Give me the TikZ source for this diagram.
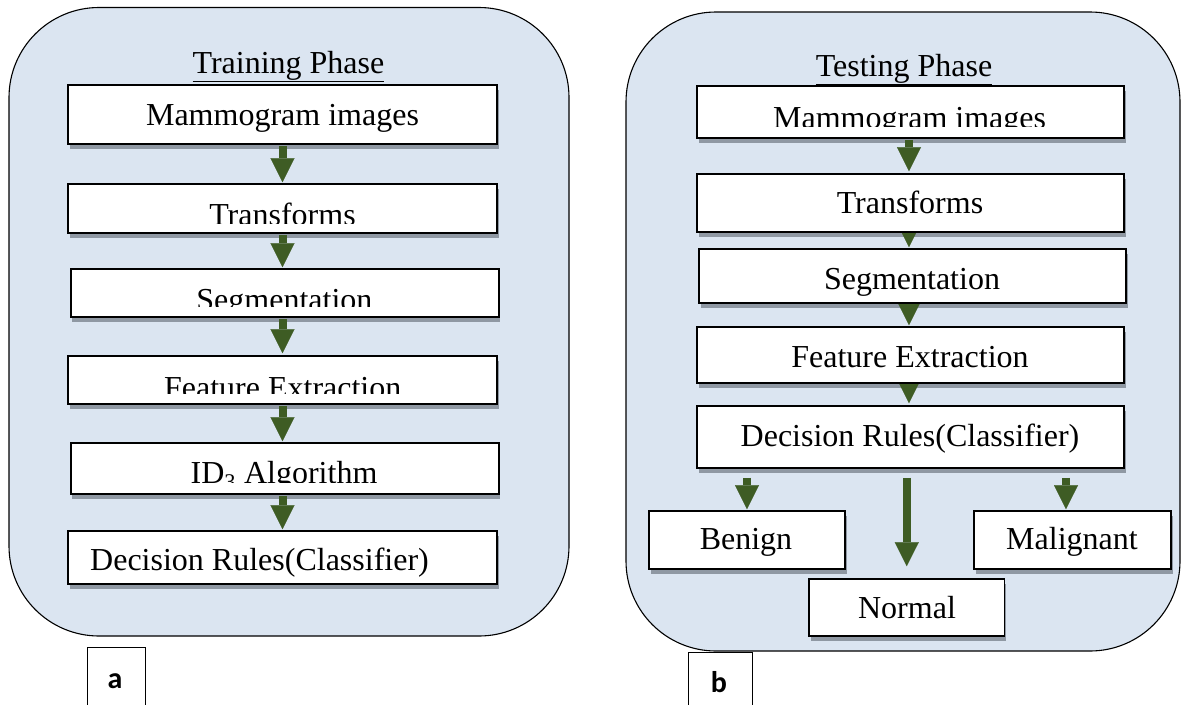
\documentclass[tikz,border=0pt]{standalone}
\usepackage{fontspec}
\setmainfont{Liberation Serif}
\newfontfamily\labfont{Carlito}
\usetikzlibrary{arrows.meta,shadows,calc}
\definecolor{panelblue}{RGB}{219,229,241}
\definecolor{arrgreen}{RGB}{62,92,36}
\definecolor{shadowgray}{RGB}{143,152,163}
\begin{document}
\begin{tikzpicture}[x=1pt,y=-1pt,
  panel/.style={draw=black, line width=1.1pt, fill=panelblue, rounded corners=90pt},
  box/.style={draw=black, line width=1.6pt, fill=white, inner sep=0pt,
    drop shadow={shadow xshift=1.5pt, shadow yshift=-5pt, fill=shadowgray, opacity=1}},
  txt/.style={font=\fontsize{32}{38}\selectfont, inner sep=0pt, anchor=base},
  arr/.style={draw=arrgreen, line width=8pt,
    -{Triangle[width=24pt, length=24pt, line width=0.1pt]}},
  labbox/.style={draw=black, line width=1pt},
  labtxt/.style={font=\labfont\bfseries\fontsize{30}{36}\selectfont, inner sep=0pt, anchor=base}
]
\useasboundingbox (0,0) rectangle (1183,704);
\fill[white] (0,0) rectangle (1183,704);

% ---------- panels ----------
\draw[panel] (9,7.5) rectangle (569,636);
\draw[panel] (626,12) rectangle (1180,651);

% ---------- left panel (training) ----------
\node[txt] (ltitle) at (288.5,73) {\underline{Training Phase}};
\node[box, minimum width=429pt, minimum height=59pt] (lm) at (282.5,114.5) {};
\node[box, minimum width=429pt, minimum height=49pt] (lt) at (282.5,208.5) {};
\node[box, minimum width=428pt, minimum height=48pt] (ls) at (284.8,293) {};
\node[box, minimum width=429pt, minimum height=48pt] (lf) at (282.5,380) {};
\node[box, minimum width=428pt, minimum height=51pt] (li) at (284.8,468.5) {};
\node[box, minimum width=429pt, minimum height=53pt] (ld) at (282.5,557.5) {};

\draw[arr] ($(lm.south)+(0,1)$) -- ($(lm.south |- lt.north)+(0,-1)$);
\draw[arr] ($(lt.south)+(0,1)$) -- ($(lt.south |- ls.north)+(0,-1)$);
\draw[arr] ($(ls.south)+(-2.3,1)$) -- ($(ls.south |- lf.north)+(-2.3,-2)$);
\draw[arr] ($(lf.south)+(0,1)$) -- ($(lf.south |- li.north)+(0,-1)$);
\draw[arr] ($(li.south)+(-2.3,1)$) -- ($(li.south |- ld.north)+(-2.3,-1)$);

\node[txt] (lmt) at (282.5,125) {Mammogram images};
\begin{scope}
  \clip (68,184) rectangle (497,223);
  \node[txt] (ltt) at (282.5,225) {Transforms};
\end{scope}
\begin{scope}
  \clip (70,269) rectangle (499,306);
  \node[txt] (lst) at (284.4,310) {Segmentation};
\end{scope}
\begin{scope}
  \clip (68,356) rectangle (497,393);
  \node[txt] (lft) at (282.7,398) {Feature Extraction};
\end{scope}
\begin{scope}
  \clip (70,443) rectangle (499,482.5);
  \node[txt] (lit) at (284,483) {ID\textsubscript{3} Algorithm};
\end{scope}
\node[txt, anchor=base west] (ldt) at (90,570) {Decision Rules(Classifier)};

% ---------- right panel (testing) ----------
\node[txt] (rtitle) at (904,76) {\underline{Testing Phase}};

\node[box, minimum width=427pt, minimum height=52pt] (rm) at (910.5,112) {};
\node[box, minimum width=427pt, minimum height=58pt] (rt) at (910.5,203) {};
\node[box, minimum width=427pt, minimum height=54pt] (rs) at (912.5,276) {};
\node[box, minimum width=427pt, minimum height=56pt] (rf) at (910.5,355) {};
\node[box, minimum width=427pt, minimum height=62pt] (rd) at (910.5,437) {};
\node[box, minimum width=196pt, minimum height=58pt] (rb) at (747,540) {};
\node[box, minimum width=197pt, minimum height=58pt] (rmal) at (1072.5,540) {};
\node[box, minimum width=195.5pt, minimum height=57pt] (rn) at (906.75,607.5) {};

\draw[arr] ($(rm.south)+(-1.5,1)$) -- ($(rm.south |- rt.north)+(-1.5,-2)$);
% arrows whose upper part is hidden behind the boxes
\begin{scope}
  \clip ($(rt.south west)+(0,0.8)$) rectangle ($(rs.north east)+(0,-0.8)$);
  \draw[arr] ($(rt.south)+(-1.5,-30)$) -- ($(rt.south |- rs.north)+(-1.5,-1)$);
\end{scope}
\begin{scope}
  \clip ($(rs.south west)+(-5,0.8)$) rectangle ($(rf.north east)+(0,-0.8)$);
  \draw[arr] ($(rs.south)+(-3.5,-14)$) -- ($(rs.south |- rf.north)+(-3.5,-1)$);
\end{scope}
\begin{scope}
  \clip ($(rf.south west)+(0,0.8)$) rectangle ($(rd.north east)+(0,-0.8)$);
  \draw[arr] ($(rf.south)+(-1.5,-24)$) -- ($(rf.south |- rd.north)+(-1.5,-2)$);
\end{scope}
\draw[arr] ($(rd.south -| rb.north)+(0,9)$) -- ($(rb.north)+(0,-1)$);
\draw[arr] ($(rd.south -| rn.north)+(0,9)$) -- ($(rn.north)+(0,-12)$);
\draw[arr] ($(rd.south -| rmal.north)+(-6.5,9)$) -- ($(rmal.north)+(-6.5,-1)$);

\begin{scope}
  \clip (697,86) rectangle (1124,126);
  \node[txt] (rmt) at (909.6,128) {Mammogram images};
\end{scope}
\node[txt] (rtt) at (910,213) {Transforms};
\node[txt] (rst) at (912,289) {Segmentation};
\node[txt] (rft) at (910,367) {Feature Extraction};
\node[txt] (rdt) at (910,446) {Decision Rules(Classifier)};
\node[txt] (rbt) at (746,549) {Benign};
\node[txt] (rmalt) at (1072,549) {Malignant};
\node[txt] (rnt) at (907,618) {Normal};

% ---------- sub-figure labels ----------
\draw[labbox] (87,720) -- (87,647) -- (145,647) -- (145,720);
\node[labtxt] (la) at (115,688) {a};
\draw[labbox] (688,720) -- (688,652) -- (752,652) -- (752,720);
\node[labtxt] (lb) at (719,692) {b};
\end{tikzpicture}
\end{document}
